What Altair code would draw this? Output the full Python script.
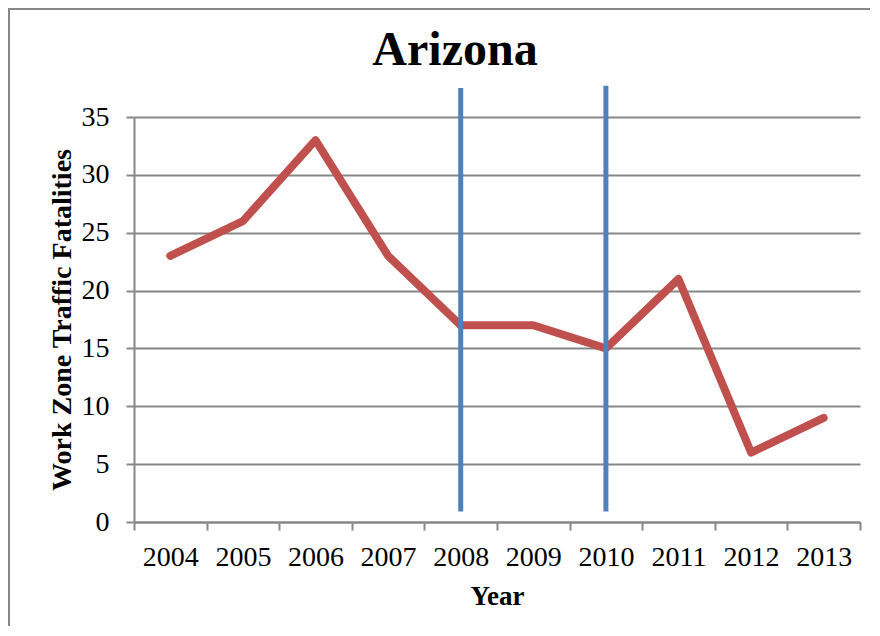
import altair as alt
import pandas as pd

years = [2004, 2005, 2006, 2007, 2008, 2009, 2010, 2011, 2012, 2013]
fatalities = [23, 26, 33, 23, 17, 17, 15, 21, 6, 9]

marker_years = [2008, 2010]
marker_low = [0.9, 0.9]
marker_high = [37.5, 37.7]

tick_positions = [2003.5 + i for i in range(11)]
y_ticks = [0, 5, 10, 15, 20, 25, 30, 35]

chart_title = "Arizona"

df = pd.DataFrame({"Year": years, "Fatalities": fatalities})
mk = pd.DataFrame({"Year": marker_years, "lo": marker_low, "hi": marker_high})

FONT = "Liberation Serif"
GRAY = "#878787"
W, H = 726, 405

xscale = alt.Scale(domain=[2003.5, 2013.5], nice=False, zero=False)
yscale = alt.Scale(domain=[0, 35], nice=False)

border = alt.Chart(pd.DataFrame({"a": [0]})).mark_rect(
    fill=None, stroke=GRAY, strokeWidth=2
).encode(
    x=alt.value(-125), x2=alt.value(W + 300),
    y=alt.value(-108), y2=alt.value(H + 400),
)

title = alt.Chart(pd.DataFrame({"t": [chart_title]})).mark_text(
    font=FONT, fontSize=48, fontWeight="bold", color="black",
    align="center", baseline="alphabetic",
).encode(text="t:N", x=alt.value(321), y=alt.value(-52))

line = alt.Chart(df).mark_line(
    color="#C0504D", strokeWidth=8, strokeCap="round", strokeJoin="round"
).encode(
    x=alt.X("Year:Q", scale=xscale, axis=alt.Axis(
        values=tick_positions, labels=False, title=None, grid=False,
        tickSize=8, tickWidth=2, tickColor=GRAY,
        domain=True, domainColor=GRAY, domainWidth=2, orient="bottom",
    )),
    y=alt.Y("Fatalities:Q", scale=yscale, axis=alt.Axis(
        values=y_ticks, grid=True, gridColor=GRAY, gridWidth=2,
        tickSize=8, tickWidth=2, tickColor=GRAY,
        domain=True, domainColor=GRAY, domainWidth=2,
        labelFont=FONT, labelFontSize=28, labelColor="black", labelPadding=17,
        title="Work Zone Traffic Fatalities", titleFont=FONT, titleFontSize=28,
        titleFontWeight="bold", titleColor="black", titleAngle=-90,
        titleX=-64, titleY=H / 2, titleAlign="center", titleBaseline="alphabetic",
    )),
)

rules = alt.Chart(mk).mark_rule(color="#4F81BD", strokeWidth=5).encode(
    x=alt.X("Year:Q", scale=xscale, axis=alt.Axis(
        values=years, format="d", grid=False, ticks=False, domain=False,
        labelFont=FONT, labelFontSize=28, labelColor="black",
        labelBaseline="alphabetic", labelPadding=43, labelFlush=False,
        title="Year", titleFont=FONT, titleFontSize=27, titleFontWeight="bold",
        titleColor="black", titleX=W / 2, titleY=82, titleAlign="center",
        titleBaseline="alphabetic", orient="bottom",
    )),
    y=alt.Y("lo:Q", scale=yscale),
    y2="hi:Q",
)

chart = alt.layer(border, title, line, rules).resolve_axis(x="independent").properties(
    width=W, height=H,
    autosize=alt.AutoSizeParams(type="none"),
    padding={"left": 126, "top": 109, "right": 10, "bottom": 104},
).configure_view(stroke=None)

chart.save("out.html", embed_options={"renderer": "svg", "actions": False})
